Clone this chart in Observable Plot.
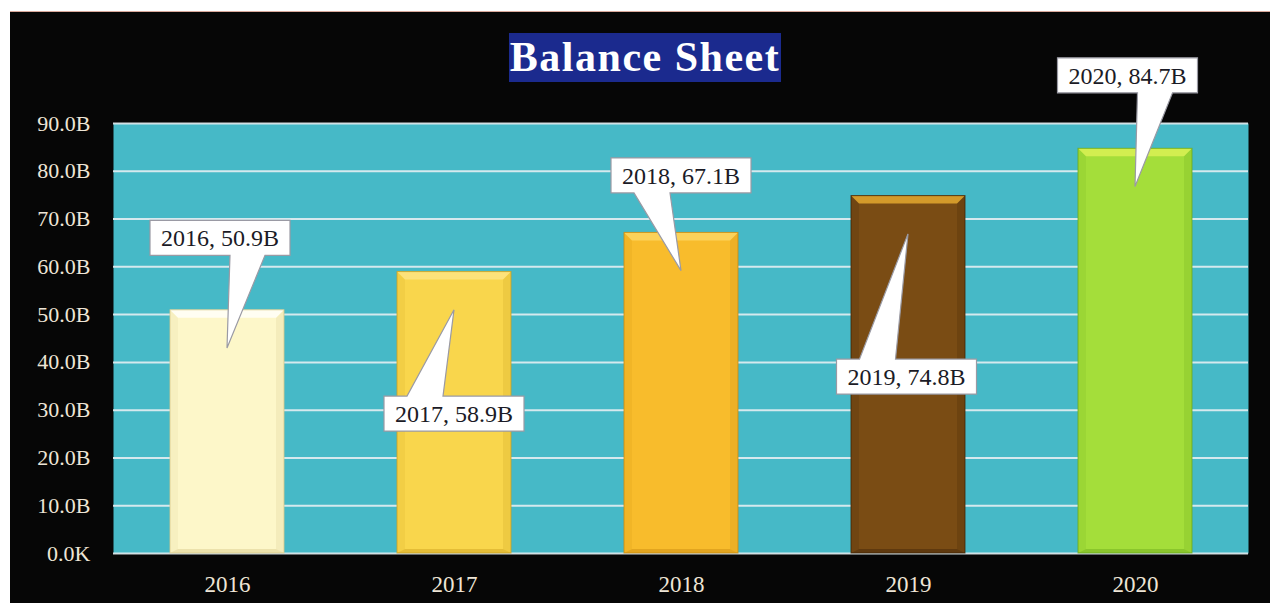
<!DOCTYPE html>
<html>
<head>
<meta charset="utf-8">
<script src="https://cdn.jsdelivr.net/npm/d3@7"></script>
<script src="https://cdn.jsdelivr.net/npm/@observablehq/plot@0.6"></script>
<style>
  html, body { margin: 0; padding: 0; background: #ffffff; width: 1270px; height: 603px; overflow: hidden; }
  #topline { position: absolute; left: 10px; top: 11px; width: 1260px; height: 1px; background: #d9a89a; }
  #wrap { position: absolute; left: 10px; top: 12px; width: 1260px; height: 591px; background: #060606; }
  #title {
    position: absolute; left: 499px; top: 21px; width: 272px; height: 49px;
    background: #1b2a8e; color: #ffffff; font-family: "Liberation Serif", serif;
    font-weight: bold; font-size: 42px; line-height: 49px; text-align: center;
    letter-spacing: 1.5px; white-space: nowrap;
  }
  #chart { position: absolute; left: 0; top: 0; }
</style>
</head>
<body>
<div id="topline"></div>
<div id="wrap">
  <div id="chart"></div>
  <div id="title">Balance Sheet</div>
</div>
<script>
// ---- data ----
const years = ["2016", "2017", "2018", "2019", "2020"];
const values = [50.9, 58.9, 67.1, 74.8, 84.7];          // billions
const yTicks = [0, 10, 20, 30, 40, 50, 60, 70, 80, 90];

// ---- styles / layout (not data) ----
const barColors = ["#fdf7c9", "#f9d64c", "#f8bc2c", "#7a4c14", "#a4de3a"];
const bevelColors = ["#fffef2", "#fde27a", "#fbd25a", "#d49a2a", "#d2ee50"];
const edgeColors = ["#d8c88a", "#c9a020", "#c88a10", "#3e2406", "#6aa81c"];
// callout box centre offsets (px) from bar top-centre, and which side of the box the pointer leaves from
const callouts = [
  {dx: -7, dy: -72, side: 1},
  {dx: 0, dy: 142, side: -1},
  {dx: 0, dy: -57, side: -1},
  {dx: -1.5, dy: 181, side: -1},
  {dx: -7.5, dy: -73, side: 1}
];
const pointerDepth = 8; // pointer tip sits this many billions below the bar top

const table = years.map((year, i) => ({year, value: values[i], color: barColors[i]}));

const fmtTick = v => v === 0 ? "0.0K" : v.toFixed(1) + "B";
const fmtLabel = d => `${d.year}, ${d.value.toFixed(1)}B`;

function bandwidthOf(scales) {
  if (scales.x && typeof scales.x.bandwidth === "function") return scales.x.bandwidth();
  if (scales.scales && scales.scales.x && scales.scales.x.bandwidth != null) return scales.scales.x.bandwidth;
  return 0;
}

function bevels(index, scales) {
  const {x, y} = scales;
  const bw = bandwidthOf(scales);
  const g = d3.create("svg:g");
  const b = 8;
  table.forEach((d, i) => {
    const x0 = x(d.year), x1 = x0 + bw, y0 = y(d.value), y1 = y(0);
    g.append("polygon")
      .attr("points", [[x0, y0], [x0 + b, y0 + b], [x0 + b, y1 - 4], [x0, y1]].join(" "))
      .attr("fill", edgeColors[i]).attr("fill-opacity", 0.15);
    g.append("polygon")
      .attr("points", [[x1, y0], [x1 - b, y0 + b], [x1 - b, y1 - 4], [x1, y1]].join(" "))
      .attr("fill", edgeColors[i]).attr("fill-opacity", 0.22);
    g.append("polygon")
      .attr("points", [[x0, y1], [x0 + b, y1 - 4], [x1 - b, y1 - 4], [x1, y1]].join(" "))
      .attr("fill", edgeColors[i]).attr("fill-opacity", 0.45);
    g.append("polygon")
      .attr("points", [[x0, y0], [x1, y0], [x1 - b, y0 + b], [x0 + b, y0 + b]].join(" "))
      .attr("fill", bevelColors[i]);
    g.append("rect")
      .attr("x", x0).attr("y", y0).attr("width", bw).attr("height", y1 - y0)
      .attr("fill", "none").attr("stroke", edgeColors[i]).attr("stroke-width", 1).attr("stroke-opacity", 0.8);
  });
  return g.node();
}

function calloutMark(index, scales) {
  const {x, y} = scales;
  const bw = bandwidthOf(scales);
  const g = d3.create("svg:g");
  const w = 140, h = 35;
  table.forEach((d, i) => {
    const c = callouts[i];
    const cx = x(d.year) + bw / 2;
    const top = y(d.value);
    const tipY = y(d.value - pointerDepth);
    const bx = cx + c.dx, by = top + c.dy;
    const l = bx - w / 2, r = bx + w / 2, t = by - h / 2, bt = by + h / 2;
    const b1 = c.side > 0 ? bx + 10 : bx - 47;
    const b2 = c.side > 0 ? bx + 45 : bx - 11;
    let path;
    if (tipY > bt) {
      path = `M${l},${t}H${r}V${bt}H${b2}L${cx},${tipY}L${b1},${bt}H${l}Z`;
    } else {
      path = `M${l},${t}H${b1}L${cx},${tipY}L${b2},${t}H${r}V${bt}H${l}Z`;
    }
    g.append("path").attr("d", path)
      .attr("fill", "#ffffff").attr("stroke", "#9a9aa4").attr("stroke-width", 1.2)
      .attr("stroke-linejoin", "miter");
    g.append("text")
      .attr("x", bx).attr("y", by).attr("dy", "0.35em")
      .attr("text-anchor", "middle")
      .attr("font-family", "'Liberation Serif', serif")
      .attr("font-size", 24)
      .attr("fill", "#1b1b26")
      .text(fmtLabel(d));
  });
  return g.node();
}

const chart = Plot.plot({
  width: 1260,
  height: 591,
  marginLeft: 103,
  marginRight: 22,
  marginTop: 111,
  marginBottom: 50,
  style: {background: "transparent", fontFamily: "'Liberation Serif', serif", overflow: "visible"},
  x: {domain: years, paddingInner: 0.5, paddingOuter: 0.25, label: null},
  y: {domain: [0, 90], label: null},
  color: {type: "identity"},
  marks: [
    Plot.frame({fill: "#46b9c7", stroke: null}),
    Plot.gridY(yTicks, {stroke: "#e4eef2", strokeOpacity: 0.9, strokeWidth: 2}),
    Plot.barY(table, {x: "year", y: "value", fill: "color"}),
    bevels,
    Plot.axisY({ticks: yTicks, tickFormat: fmtTick, tickSize: 0, tickPadding: 23,
                fontSize: 22, color: "#eee5d6", label: null}),
    Plot.axisX({tickSize: 0, tickPadding: 22, fontSize: 23, color: "#eee5d6", label: null}),
    calloutMark
  ]
});
document.getElementById("chart").appendChild(chart);
</script>
</body>
</html>
